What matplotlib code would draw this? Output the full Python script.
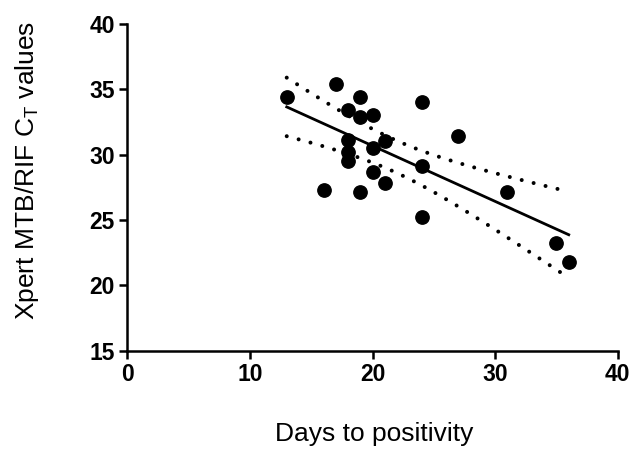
import numpy as np
import matplotlib
matplotlib.use("Agg")
import matplotlib.pyplot as plt

# days to positivity vs Xpert Ct values
days = [13, 17, 19, 24, 18, 19, 20, 27, 18, 21, 20, 18, 18, 24, 20, 21, 16, 19, 31, 24, 35, 36]
ct = [34.4, 35.4, 34.4, 34.0, 33.4, 32.9, 33.0, 31.4, 31.1, 31.0, 30.5, 30.2, 29.5, 29.1,
      28.7, 27.8, 27.3, 27.1, 27.1, 25.2, 23.2, 21.8]

x_ticks = [0, 10, 20, 30, 40]
y_ticks = [15, 20, 25, 30, 35, 40]

plt.rcParams['font.family'] = ['Liberation Sans', 'DejaVu Sans']

x = np.array(days, dtype=float)
y = np.array(ct)
n = len(x)
slope, icpt = np.polyfit(x, y, 1)
xf = np.linspace(x.min(), x.max(), 100)
yf = slope * xf + icpt

# 95% confidence band of the fit
resid = y - (slope * x + icpt)
s = np.sqrt(np.sum(resid**2) / (n - 2))
tval = 2.086  # t(0.975, df=20)
se = s * np.sqrt(1 / n + (xf - x.mean())**2 / np.sum((x - x.mean())**2))

fig = plt.figure(figsize=(6.32, 4.5), dpi=100)
ax = fig.add_axes([0.2015, 0.221, 0.776, 0.726])

ax.plot(x, y, 'o', color='black', markersize=9.6, zorder=3)
ax.plot(xf, yf, color='black', lw=2.0, zorder=2)
for sign in (1, -1):
    ax.plot(xf, yf + sign * tval * se, color='black', lw=2.9,
            linestyle=(0, (0.001, 3.05)), dash_capstyle='round', zorder=2)

ax.set_xlim(0, 40)
ax.set_ylim(15, 40)
ax.set_xticks(x_ticks)
ax.set_yticks(y_ticks)
for sp in ['top', 'right']:
    ax.spines[sp].set_visible(False)
for sp in ['left', 'bottom']:
    ax.spines[sp].set_linewidth(1.8)
ax.tick_params(width=1.8, length=6, labelsize=16.5, pad=3)
for lab in ax.get_xticklabels() + ax.get_yticklabels():
    lab.set_fontweight('bold')

ax.set_xlabel('Days to positivity', fontsize=19, labelpad=26, x=0.503)
ax.set_ylabel('Xpert MTB/RIF C$_\\mathregular{T}$ values', fontsize=19, labelpad=35, y=0.55)

fig.savefig('out.png', dpi=100)
